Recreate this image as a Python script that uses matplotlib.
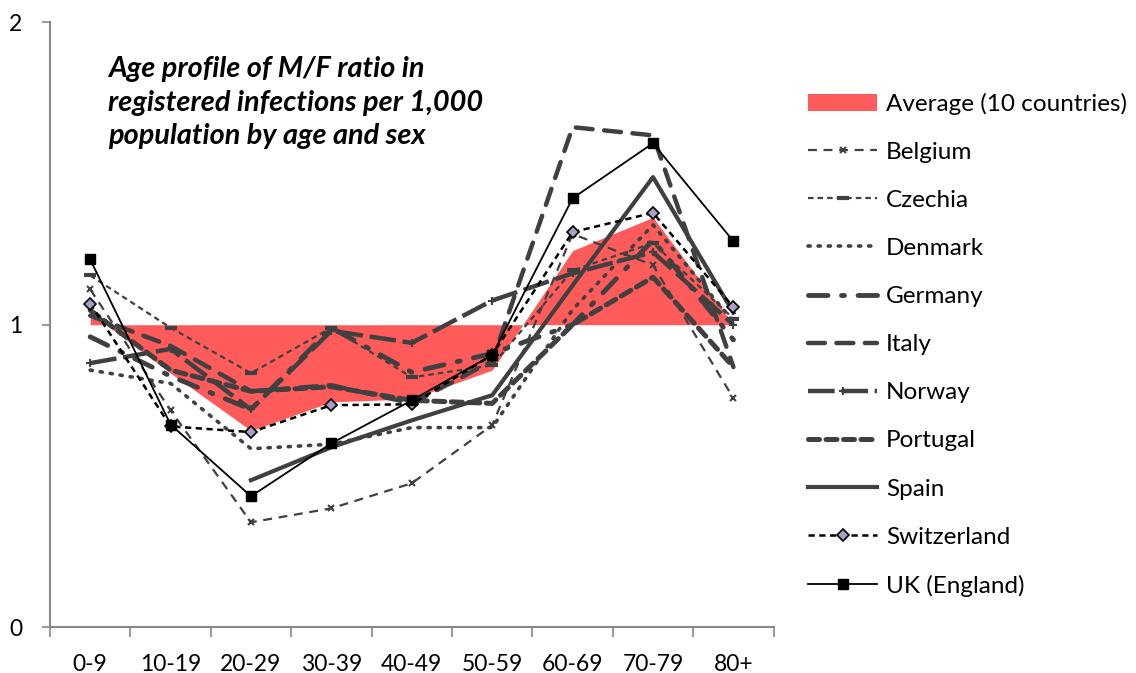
import numpy as np
import matplotlib.pyplot as plt
from matplotlib.patches import Patch

plt.rcParams['font.family'] = ['Lato', 'DejaVu Sans']

cats = ['0-9', '10-19', '20-29', '30-39', '40-49', '50-59', '60-69', '70-79', '80+']
average = [1.04, 0.84, 0.65, 0.745, 0.755, 0.85, 1.245, 1.355, 1.0]
belgium = [1.117, 0.717, 0.347, 0.393, 0.476, 0.668, 1.30, 1.197, 0.757]
czechia = [1.163, 0.99, 0.84, 0.99, 0.826, 0.866, 1.18, 1.27, 1.02]
denmark = [0.85, 0.806, 0.59, 0.605, 0.66, 0.66, 1.05, 1.33, 1.01]
germany = [0.96, 0.83, 0.72, 0.99, 0.843, 0.905, 1.0, 1.28, 0.95]
italy = [1.03, 0.93, 0.78, 0.80, 0.74, 0.88, 1.653, 1.626, 0.86]
norway = [0.873, 0.92, 0.72, 0.98, 0.94, 1.08, 1.17, 1.24, 1.0]
portugal = [1.048, 0.85, 0.78, 0.795, 0.75, 0.74, 1.0, 1.157, 0.86]
spain = [np.nan, np.nan, 0.486, 0.595, 0.684, 0.767, 1.13, 1.488, 1.04]
switzerland = [1.07, 0.664, 0.645, 0.734, 0.737, 0.90, 1.306, 1.37, 1.058]
uk = [1.216, 0.67, 0.433, 0.608, 0.75, 0.90, 1.418, 1.60, 1.276]

grey = '#404040'
red = '#ff5b5b'
x = np.arange(len(cats))

fig = plt.figure(figsize=(11.36, 6.73), dpi=100)
ax = fig.add_axes([0.044, 0.068, 0.637, 0.899])

ax.fill_between(x, average, 1, color=red, lw=0, zorder=1)

styles = [
    ('Belgium', belgium, dict(color=grey, lw=1.6, dashes=(4, 3), marker='x', ms=5, mew=1.5)),
    ('Czechia', czechia, dict(color=grey, lw=1.6, dashes=(2.5, 1.8), marker='_', ms=9, mew=3)),
    ('Denmark', denmark, dict(color=grey, lw=2.6, dashes=(0.6, 2.2), dash_capstyle='round')),
    ('Germany', germany, dict(color=grey, lw=3.5, dashes=(4, 2.8, 0.6, 2.8), dash_capstyle='round')),
    ('Italy', italy, dict(color=grey, lw=3.2, dashes=(3.8, 2.6), dash_capstyle='round')),
    ('Norway', norway, dict(color=grey, lw=3.2, dashes=(6, 1.5), marker='+', ms=6, mew=1.5)),
    ('Portugal', portugal, dict(color=grey, lw=3.6, dashes=(2.2, 1.3), dash_capstyle='round')),
    ('Spain', spain, dict(color=grey, lw=3.0)),
    ('Switzerland', switzerland, dict(color='black', lw=1.8, dashes=(2.5, 1.8), marker='D',
                                      ms=6, mfc='#a89fc6', mec='black', mew=1.2)),
    ('UK (England)', uk, dict(color='black', lw=1.3, marker='s', ms=6.5, mfc='black')),
]

handles = [Patch(facecolor=red, edgecolor='none', label='Average (10 countries)')]
for name, vals, kw in styles:
    ln, = ax.plot(x, vals, label=name, zorder=3, **kw)
    handles.append(ln)

ax.set_xlim(-0.5, 8.5)
ax.set_ylim(0, 2)
ax.set_yticks([0, 1, 2])
ax.set_xticks(x)
ax.set_xticklabels(cats)
ax.set_xticks(np.arange(-0.5, 9, 1), minor=True)
ax.tick_params(axis='x', which='major', length=0, pad=19, labelsize=16.5)
ax.tick_params(axis='x', which='minor', length=7, color='#888888', width=1.2, direction='out')
ax.tick_params(axis='y', length=6, color='#888888', width=1.2, pad=14, labelsize=16.5)
for s in ['top', 'right']:
    ax.spines[s].set_visible(False)
for s in ['left', 'bottom']:
    ax.spines[s].set_color('#888888')
    ax.spines[s].set_linewidth(1.5)

ax.text(0.08, 0.944, 'Age profile of M/F ratio in\nregistered infections per 1,000\npopulation by age and sex',
        transform=ax.transAxes, ha='left', va='top', fontsize=20.8, fontweight='bold',
        fontstyle='italic', linespacing=1.36)

fig.legend(handles=handles, loc='upper left', bbox_to_anchor=(0.692, 0.895), frameon=False,
           fontsize=17.5, handlelength=2.85, handletextpad=0.35, labelspacing=1.115)

fig.savefig('out.png', dpi=100)
